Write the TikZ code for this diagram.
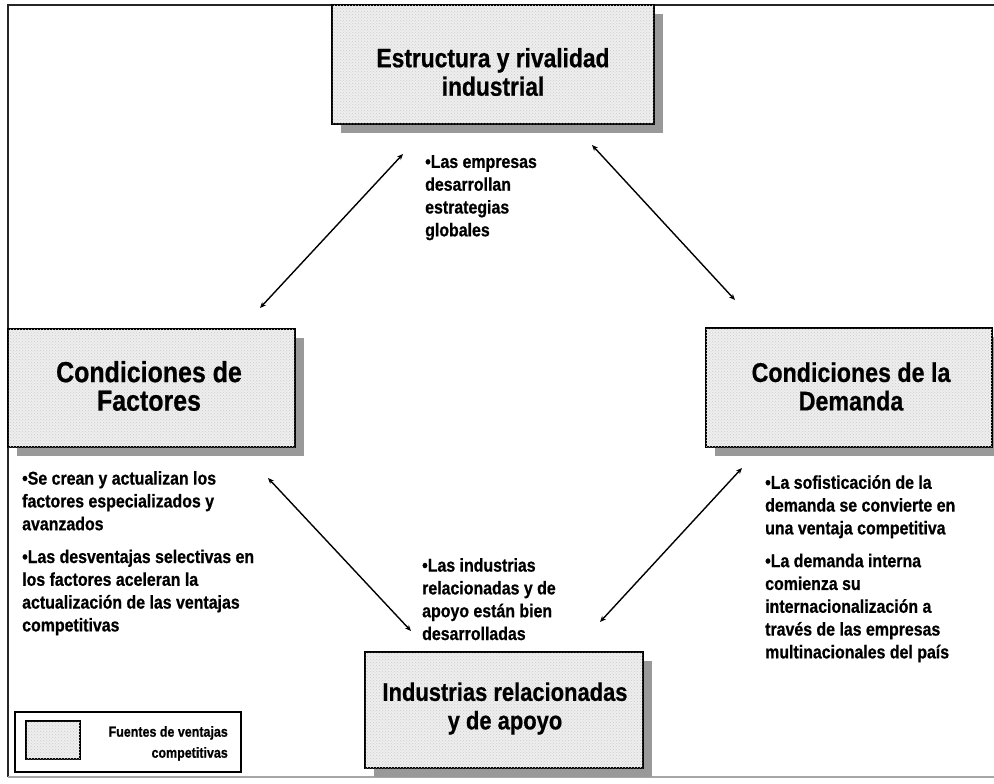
\documentclass[tikz,border=0pt]{standalone}
\usepackage{fontspec}
\setmainfont{Liberation Sans}[FakeStretch=0.86, BoldFeatures={FakeBold=0.7}]
\usetikzlibrary{shadows,patterns,arrows.meta}
\begin{document}
\begin{tikzpicture}[x=1pt,y=-1pt,
  box/.style={draw=black, line width=1.6pt, fill=gray!13,
    postaction={pattern=crosshatch dots, pattern color=gray!40},
    drop shadow={shadow xshift=9pt, shadow yshift=-9pt, fill=black!40, opacity=1}},
  title/.style={font=\bfseries\fontsize{27}{28.5}\selectfont, align=center, inner sep=0pt},
  body/.style={font=\bfseries\fontsize{18.5}{22.8}\selectfont, align=left, inner sep=0pt, anchor=north west},
  link/.style={{Stealth[length=6pt,width=5pt]}-{Stealth[length=6pt,width=5pt]}, line width=1.4pt},
  frame/.style={line width=2.2pt, draw=black!85}]
\useasboundingbox (0,0) rectangle (994,784);
\fill[white] (0,0) rectangle (994,784);
% outer frame
\coordinate (ftl) at (8,5);
\coordinate (ftr) at (994,5);
\coordinate (fbl) at (8,777);
\coordinate (fbr) at (994,777);
\draw[frame] (ftr) -- (ftl) -- (fbl);
\draw[line width=1.2pt, draw=black!35] (fbl) -- (fbr);
% boxes
\node[box, minimum width=322pt, minimum height=119pt] (est) at (493,64.5) {};
\node[box, minimum width=287pt, minimum height=118pt] (fac) at (151.5,388) {};
\node[box, minimum width=286pt, minimum height=119pt] (dem) at (849,387.5) {};
\node[box, minimum width=278pt, minimum height=116pt] (ind) at (504,710) {};
% titles
\node[title, font=\bfseries\fontsize{26.5}{28.5}\selectfont] (estT) at (493,72) {Estructura y rivalidad\\industrial};
\node[title, font=\bfseries\fontsize{29}{28.5}\selectfont] (facT) at (149,386) {Condiciones de\\Factores};
\node[title] (demT) at (851,386.5) {Condiciones de la\\Demanda};
\node[title, font=\bfseries\fontsize{25.5}{28.5}\selectfont] (indT) at (505,708.5) {Industrias relacionadas\\y de apoyo};
% body texts
\node[body] (estB) at (425,155) {•Las empresas\\desarrollan\\estrategias\\globales};
\node[body] (facB) at (22,471) {•Se crean y actualizan los\\factores especializados y\\avanzados\\[10pt]•Las desventajas selectivas en\\los factores aceleran la\\actualización de las ventajas\\competitivas};
\node[body] (demB) at (765,475) {•La sofisticación de la\\demanda se convierte en\\una ventaja competitiva\\[10pt]•La demanda interna\\comienza su\\internacionalización a\\través de las empresas\\multinacionales del país};
\node[body] (indB) at (422,558) {•Las industrias\\relacionadas y de\\apoyo están bien\\desarrolladas};
% arrows
\coordinate (a1) at (403,154); \coordinate (a2) at (260,308);
\coordinate (b1) at (592,145); \coordinate (b2) at (735,300);
\coordinate (c1) at (268,478); \coordinate (c2) at (411,631);
\coordinate (d1) at (742,468); \coordinate (d2) at (600,622);
\draw[link] (a2) -- (a1);
\draw[link] (b1) -- (b2);
\draw[link] (c1) -- (c2);
\draw[link] (d1) -- (d2);
% legend
\node[draw=black, line width=1.2pt, minimum width=226pt, minimum height=60pt, inner sep=0pt] (leg) at (128,742) {};
\node[draw=black, line width=1.2pt, fill=gray!13, postaction={pattern=crosshatch dots, pattern color=gray!40}, minimum width=54pt, minimum height=38pt, inner sep=0pt] (legbox) at (53,740) {};
\node[font=\bfseries\fontsize{14.5}{21}\selectfont, align=right, inner sep=0pt, anchor=north east] (legT) at (228,726) {Fuentes de ventajas\\competitivas};
\end{tikzpicture}
\end{document}
